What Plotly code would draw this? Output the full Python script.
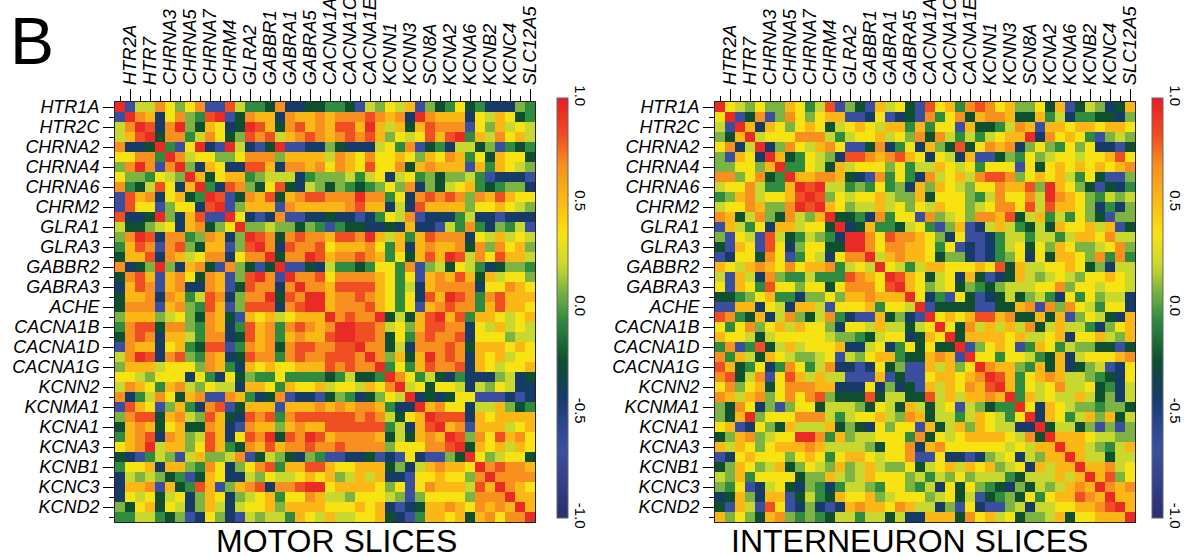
import plotly.graph_objects as go

W, H = 1187, 556

GENES = ["HTR1A", "HTR2A", "HTR2C", "HTR7", "CHRNA2", "CHRNA3", "CHRNA4", "CHRNA5",
         "CHRNA6", "CHRNA7", "CHRM2", "CHRM4", "GLRA1", "GLRA2", "GLRA3", "GABBR1",
         "GABBR2", "GABRA1", "GABRA3", "GABRA5", "ACHE", "CACNA1A", "CACNA1B", "CACNA1C",
         "CACNA1D", "CACNA1E", "CACNA1G", "KCNN1", "KCNN2", "KCNN3", "KCNMA1", "SCN8A",
         "KCNA1", "KCNA2", "KCNA3", "KCNA6", "KCNB1", "KCNB2", "KCNC3", "KCNC4",
         "KCND2", "SLC12A5"]
Y_LABELS = GENES[0::2]
X_LABELS = GENES[1::2]

# correlation levels (code -> r value)
LEVELS = {"R": 0.95, "r": 0.82, "O": 0.68, "o": 0.52, "Y": 0.35, "y": 0.2,
          "L": 0.08, "G": -0.06, "D": -0.25, "N": -0.42, "B": -0.68}

MOTOR_ROWS = [
    "RByyOYLYOBBryGGDONNDD" + "GGDByLYyoBLDGYDGNNNLG",
    "BROoNYOLGrRBDOooNOooO" + "oOOOrOoONROoooNYyoYDG",
    "yORrNORLDoYNDRroDOroO" + "orroRoyoDorOOOBYLoyYy",
    "yorRDOOGyOYDLrOryoOrO" + "oOrOroLYyYrorRGoyOYoy",
    "ONNDRGBYRNBRyNBDRBBNN" + "LDNNNyYGOBDGNyyDLBGDG",
    "YYOOGROyYYLLYOOOLoooo" + "yOoYOYYoYLoYOoGYDoYYD",
    "LOROBORLNoYNNrroNOOoO" + "YOoYrYYODoOoooBoGoYyL",
    "YLLGYyLRoDYooGLyyyNGL" + "LLyGyYNyYGLDLLyGBNNNB",
    "OGDyrYNoRGNrOLDYrDNyL" + "DLGDGLYLONLDyYoGDGLLN",
    "BroONYoDGRrBDOorDoOrr" + "OOOROOGYNOrOrOLOoroYY",
    "BrYYBLYYNrRBLoooBOooo" + "ooOrooNyNrooooLYYoYyL",
    "rNNDRLNorBBRYNBNOBBNN" + "DNNBNGYyOBNNNGyNNBNNN",
    "yDDLyYNoODLYRLLyLLDLG" + "BGDDNNDNoNNByGOGNLGyB",
    "LORrNOOGLOoNLRrODOrOO" + "orrORoyoGorOOONYyoyYy",
    "GorOBOrLDooBLrRONrOOr" + "YoooOYGoNoOooODOLOYoL",
    "DoorNOoyYOONYOORDOORr" + "oOOrOoGYDoroRryOYrooy",
    "ONDLRLNoODBOLDBDRBBDN" + "yGGDGYYGOBLyDYyGNDLLG",
    "DOroBoOYDOoBLrROBROOr" + "YOOOOoYGYBoOoroDoyYYL",
    "NorOBoONNOoBDrOONOROO" + "orrrroYGyNoOOOONYYOoY",
    "DooONOoGyrONLOORDrORR" + "oOOrOoYGYNroRrOGOrooo",
    "DOOOBoOLGroBLrrrNOrRR" + "oOOOroYGYBoOrOOGorooY",
    "LoooLyYLDOoDBoYoyYooo" + "ROrOORDyDorRorGooYyYo",
    "GOrrDOOLGOoNGroOGOrOo" + "ORRrrOyYLorrOONYyoyYy",
    "DOrONooyGOONDroOGoOoo" + "rRRrrODYGOrOOrNYYYLyy",
    "BOooNYoGDrrBGOoODOrrO" + "OrrROODyNOOOrODoooYoY",
    "yORrNOrLGOoNDrOOGOrOO" + "rrrOROLoDoROrONoYoyYY",
    "LoooyYYYLOoGNoYoYYooo" + "rOrOORGYGorOOrNoYyYYo",
    "YYyLYYYNYGNYDLGGYGGGG" + "DGyDDGROYGyDNGNNNLyND",
    "yOoYGoOyLYyyNooYGoYYo" + "yYYyoYORyYDYYyNyLYyNN",
    "ONGyOYDoOBBOoGNDOBNNB" + "DLGNDLYyRNDNDYYBBBNBN",
    "BroYBLoGNOrBDoooBoooO" + "oOoOOoGNNRoOYYNyyoLDG",
    "LOrrDoOyLroDNrOrGOrrr" + "rrrOrOyDYoRrrrNoYoooo",
    "DoOoDYoDDOoNBOooLoOoo" + "rrrrrrGyNorRoOBoooyYo",
    "GoOrNOoLyroNYrORDrORr" + "oOOOOoDyDoOoRrLOYroOY",
    "YoORyooLYroGDOoroOOrO" + "OrOOOOLYYYOOrRDoYoyoY",
    "DNBGyLByoLLyOBDyLDNLG" + "BBNNDBNBYNBBLDRYLyYYD",
    "GYYoNooLGOYNLYOrGoorr" + "oYYoooDLNyoOooYROrOOo",
    "NyLyLDGBDoYNNyLYyyYoY" + "oLyoyoNNBYYoYYLOROOOO",
    "NooOBoDGroBLoOrNOOrRR" + "YooooYLYBYOoooyroROoY",
    "NYyYDyYNLoYNLyYoGYYOo" + "yyLYYYyLBLYYYYLOOORoo",
    "LDYoDYyNLoyNyYYoLoooo" + "YYYoYoNBNDooOoYOoOoRo",
    "GGyyGDLBNYLNByLyyGoYy" + "oyyYYoDNBGooYoDoOYOOR",
]

INTER_ROWS = [
    "RYyLYLLoYGyrBLDBoyYDB" + "rYoGOrOYoLLYDoBDyLNDo",
    "YRBDOBLOYLYooBBNYBNDB" + "OGYODoOOoDDoGyNGGDDNL",
    "yBRoNoYLYoYDyYoYyooGo" + "GYYBoDDGyOoBooYooYooY",
    "LDoRyYYYOOOyGyYYoyYLO" + "DOyGyGyYooRNOYoYGBLyL",
    "YONyRNLOYyoOYBBDONGYN" + "oLDrDYOoONLYLGYLYNNBD",
    "LBoYNRoDGYyLNrrOoOroY" + "NYyNoBBDLGYLyYYyYYorY",
    "LLYYLoRGGYyDoyYYYLYGy" + "yoYyYGYYYBYDYoYoYoYoO",
    "OOLYODGRooOOoDNBOGYGN" + "OyYoyOrrOLYoYoyGYDBBL",
    "yYYOyGGoRrRyyGLGYGLNo" + "LoYyLYYOoorLRoYLDBDNG",
    "GLoOyYYorRrLYyYYoyLLo" + "DYYYLGyOYYOyROoYLGyLy",
    "yYYOoLLORrRoYLyyoyYLY" + "yoYYLyYOOYryrooYLNGNL",
    "OoDyOLDOyLoRDDGNOGYYB" + "OLyYLOOorDyoGyGYLDBLL",
    "BoyGYNooyYYDRNDoGGDyY" + "GBLoBNyoyGDyDoYYoyoBD",
    "LBYyBryDGyLGNRROYrOOo" + "YLNYBBNGyyGyyGyooYOyy",
    "DBoYBrYNLYYDDRROYOOoo" + "YGYBNBNGyYDYLoYLLyYOL",
    "BNYYDOYBGYyNYOORyoOoo" + "YDLLNBNGLYNYDooYLOGOG",
    "oYyoOoYOYooOGyYyRYyGy" + "ooYYYoYrDoyyYYoYDLNyy",
    "yBoyNOLGGyGGGrOoYRroY" + "DyYNoDBNDoyLyYyLYYoYy",
    "YBoYGrYYLYYDYOOOYrRoY" + "LyYDLGDLyyyYYOLYYyYYy",
    "DDGLYoGGNLLYLooOoooRY" + "NGBYDBNDyDLyGNYGYLyyN",
    "BBooNYyNooyBYYYoGYYyR" + "BDDDDBBDDoOBOLOYyGYYN",
    "rOGDoNyOLDyOGNBBoDLNB" + "RYoYorroODDoDoBLYyDNo",
    "YGYOLYoyoYYLNYYyoyyDy" + "YRYDOyoyoyODyoyyGNLYo",
    "oYYyDyYYYYYyLLGDyYYND" + "oYRDooooYoyyYoNYYoyLo",
    "GOBGrDyoyYYYoNNyYNGYD" + "YDDRBLYoYBGoYGyLLDDBD",
    "OGoyDoYyLLyYByLYooGDD" + "oOoBRYYGYYyGDoNyYYYoO",
    "roDGYNGOYGyONNBNYDLBB" + "oyoLYROooLGoDoNDLyBNY",
    "OrDyOBYroyoyyBBBoBDBB" + "YooYoORroGYoOoyyLGDNY",
    "YOLYoDYOOOooNNNYNLNDB" + "oyoYOorRoGYyYOyyYDGNy",
    "OoyoOLYOYOrLDDDrDyyDD" + "ryoyooOoRGoyYyyoyDLNy",
    "LDOYNLBLYYDyyyLDYyDoy" + "DyYByLDGGRYNoYyLLGLLD",
    "LDoRLYYYOOOyGyYYoyLOo" + "DyyGyoYyGYRNoYGyoLoDy",
    "YoBNYLDoyyyoDLDNYLYYB" + "oDyoLoYyyNNRDyyDLBLBL",
    "DLoOLyYYRROGoLyyYYYGO" + "DYyYooooYyODRoooYyyLL",
    "oyoYLYoooOoyyyyLDYYON" + "oOYYYYYYyYyooRooyLGyo",
    "BNYoYYYLYoYGYooYyYYOB" + "BYNNBNLyYNyLooRoyyDyy",
    "DLoYLyoDLYyLoLyoyLLYD" + "yYoyoYoLyYNoyooRooOyY",
    "yLoGYYYYDLLoyLyoYYYLy" + "GyLYLyyyGDyyyoyoRorLY",
    "LGYBNyYDNLGNGyyLGYYLG" + "yNYDYLGDNLDyLyoOoROoO",
    "NDoLNooBDyGDoYYoLyYYY" + "LyYDyBDGLDYGYoorOoRoo",
    "DBoyBrYBNLNBNoOooYOoy" + "yNLBYNBBLyNyyYYooOrRo",
    "oLYLDoOLGLGDyyGyyDyNN" + "oooDOYoyYDLLyoDYYoooR",
]

CB_TICKS = [-1.0, -0.5, 0.0, 0.5, 1.0]
CB_TEXT = ["-1.0", "-0.5", "0.0", "0.5", "1.0"]


def decode(rows):
    out = []
    for i, row in enumerate(rows):
        assert len(row) == len(GENES), (i, len(row))
        out.append([LEVELS[c] for c in row])
    assert len(out) == len(GENES)
    return out


motor_z = decode(MOTOR_ROWS)
inter_z = decode(INTER_ROWS)
idx = list(range(len(GENES)))

COLORSCALE = [
    [0.000, "#2b2e6e"],
    [0.160, "#3a4fa0"],
    [0.225, "#2a4590"],
    [0.290, "#153b66"],
    [0.375, "#0d4f2f"],
    [0.470, "#2e8b3f"],
    [0.540, "#7cb342"],
    [0.600, "#c8d82e"],
    [0.675, "#f8e312"],
    [0.760, "#fbb715"],
    [0.840, "#f7901e"],
    [0.910, "#f04e23"],
    [1.000, "#e81c24"],
]

FONT = "Liberation Sans, Arial, sans-serif"

HM_TOP, HM_BOT = 102, 522


def colorbar(xpx):
    return dict(
        x=xpx / W, xanchor="left", xref="paper",
        y=(H - (98 + 518) / 2) / H, yanchor="middle", yref="paper",
        len=420 / H, lenmode="fraction",
        thickness=11, thicknessmode="pixels",
        xpad=0, ypad=0,
        outlinewidth=1, outlinecolor="#666",
        tickmode="array", tickvals=CB_TICKS, ticktext=CB_TEXT,
        tickangle=90, ticks="",
        tickfont=dict(family=FONT, size=15, color="black"),
    )


fig = go.Figure()
fig.add_trace(go.Heatmap(z=motor_z, x=idx, y=idx, colorscale=COLORSCALE, zmin=-1, zmax=1,
                         xaxis="x", yaxis="y", colorbar=colorbar(557), hoverinfo="skip"))
fig.add_trace(go.Heatmap(z=inter_z, x=idx, y=idx, colorscale=COLORSCALE, zmin=-1, zmax=1,
                         xaxis="x2", yaxis="y2", colorbar=colorbar(1152), hoverinfo="skip"))


def xaxis(x0, x1, anchor):
    return dict(
        domain=[x0 / W, x1 / W], anchor=anchor, range=[-0.5, 41.5], side="top",
        tickmode="array", tickvals=list(range(1, 42, 2)), ticktext=X_LABELS,
        tickangle=-90, ticks="outside", ticklen=12, tickwidth=1, tickcolor="black",
        tickfont=dict(family=FONT, size=18.5, color="black", style="italic"),
        minor=dict(tickmode="linear", tick0=0, dtick=2, ticks="outside", ticklen=5,
                   tickwidth=1, tickcolor="black", showgrid=False),
        showline=True, linecolor="#222", linewidth=1, mirror=True,
        showgrid=False, zeroline=False, fixedrange=True, automargin=False,
    )


def yaxis(anchor):
    return dict(
        domain=[(H - HM_BOT) / H, (H - HM_TOP) / H], anchor=anchor, range=[41.5, -0.5],
        tickmode="array", tickvals=list(range(0, 42, 2)), ticktext=Y_LABELS,
        ticks="outside", ticklen=11, tickwidth=1, tickcolor="black",
        tickfont=dict(family=FONT, size=18, color="black", style="italic"),
        minor=dict(tickmode="linear", tick0=1, dtick=2, ticks="outside", ticklen=5,
                   tickwidth=1, tickcolor="black", showgrid=False),
        showline=True, linecolor="#222", linewidth=1, mirror=True,
        showgrid=False, zeroline=False, fixedrange=True, automargin=False,
    )


fig.update_layout(
    template="none",
    width=W, height=H,
    margin=dict(l=0, r=0, t=0, b=0, autoexpand=False),
    paper_bgcolor="white", plot_bgcolor="white",
    showlegend=False,
    xaxis=xaxis(115, 535, "y"), yaxis=yaxis("x"),
    xaxis2=xaxis(715, 1135, "y2"), yaxis2=yaxis("x2"),
    annotations=[
        dict(text="B", x=8 / W, y=(H - 41) / H, xref="paper", yref="paper",
             xanchor="left", yanchor="middle", showarrow=False,
             font=dict(family=FONT, size=66, color="black")),
        dict(text="MOTOR SLICES", x=336 / W, y=(H - 541) / H, xref="paper", yref="paper",
             xanchor="center", yanchor="middle", showarrow=False,
             font=dict(family=FONT, size=32, color="black")),
        dict(text="INTERNEURON SLICES", x=909 / W, y=(H - 541) / H, xref="paper", yref="paper",
             xanchor="center", yanchor="middle", showarrow=False,
             font=dict(family=FONT, size=32, color="black")),
    ],
)

fig.write_html(
    "out.html",
    config={"displayModeBar": False},
    post_script="document.body.style.margin='0px';document.body.style.padding='0px';"
                "document.body.style.overflow='hidden';",
)
